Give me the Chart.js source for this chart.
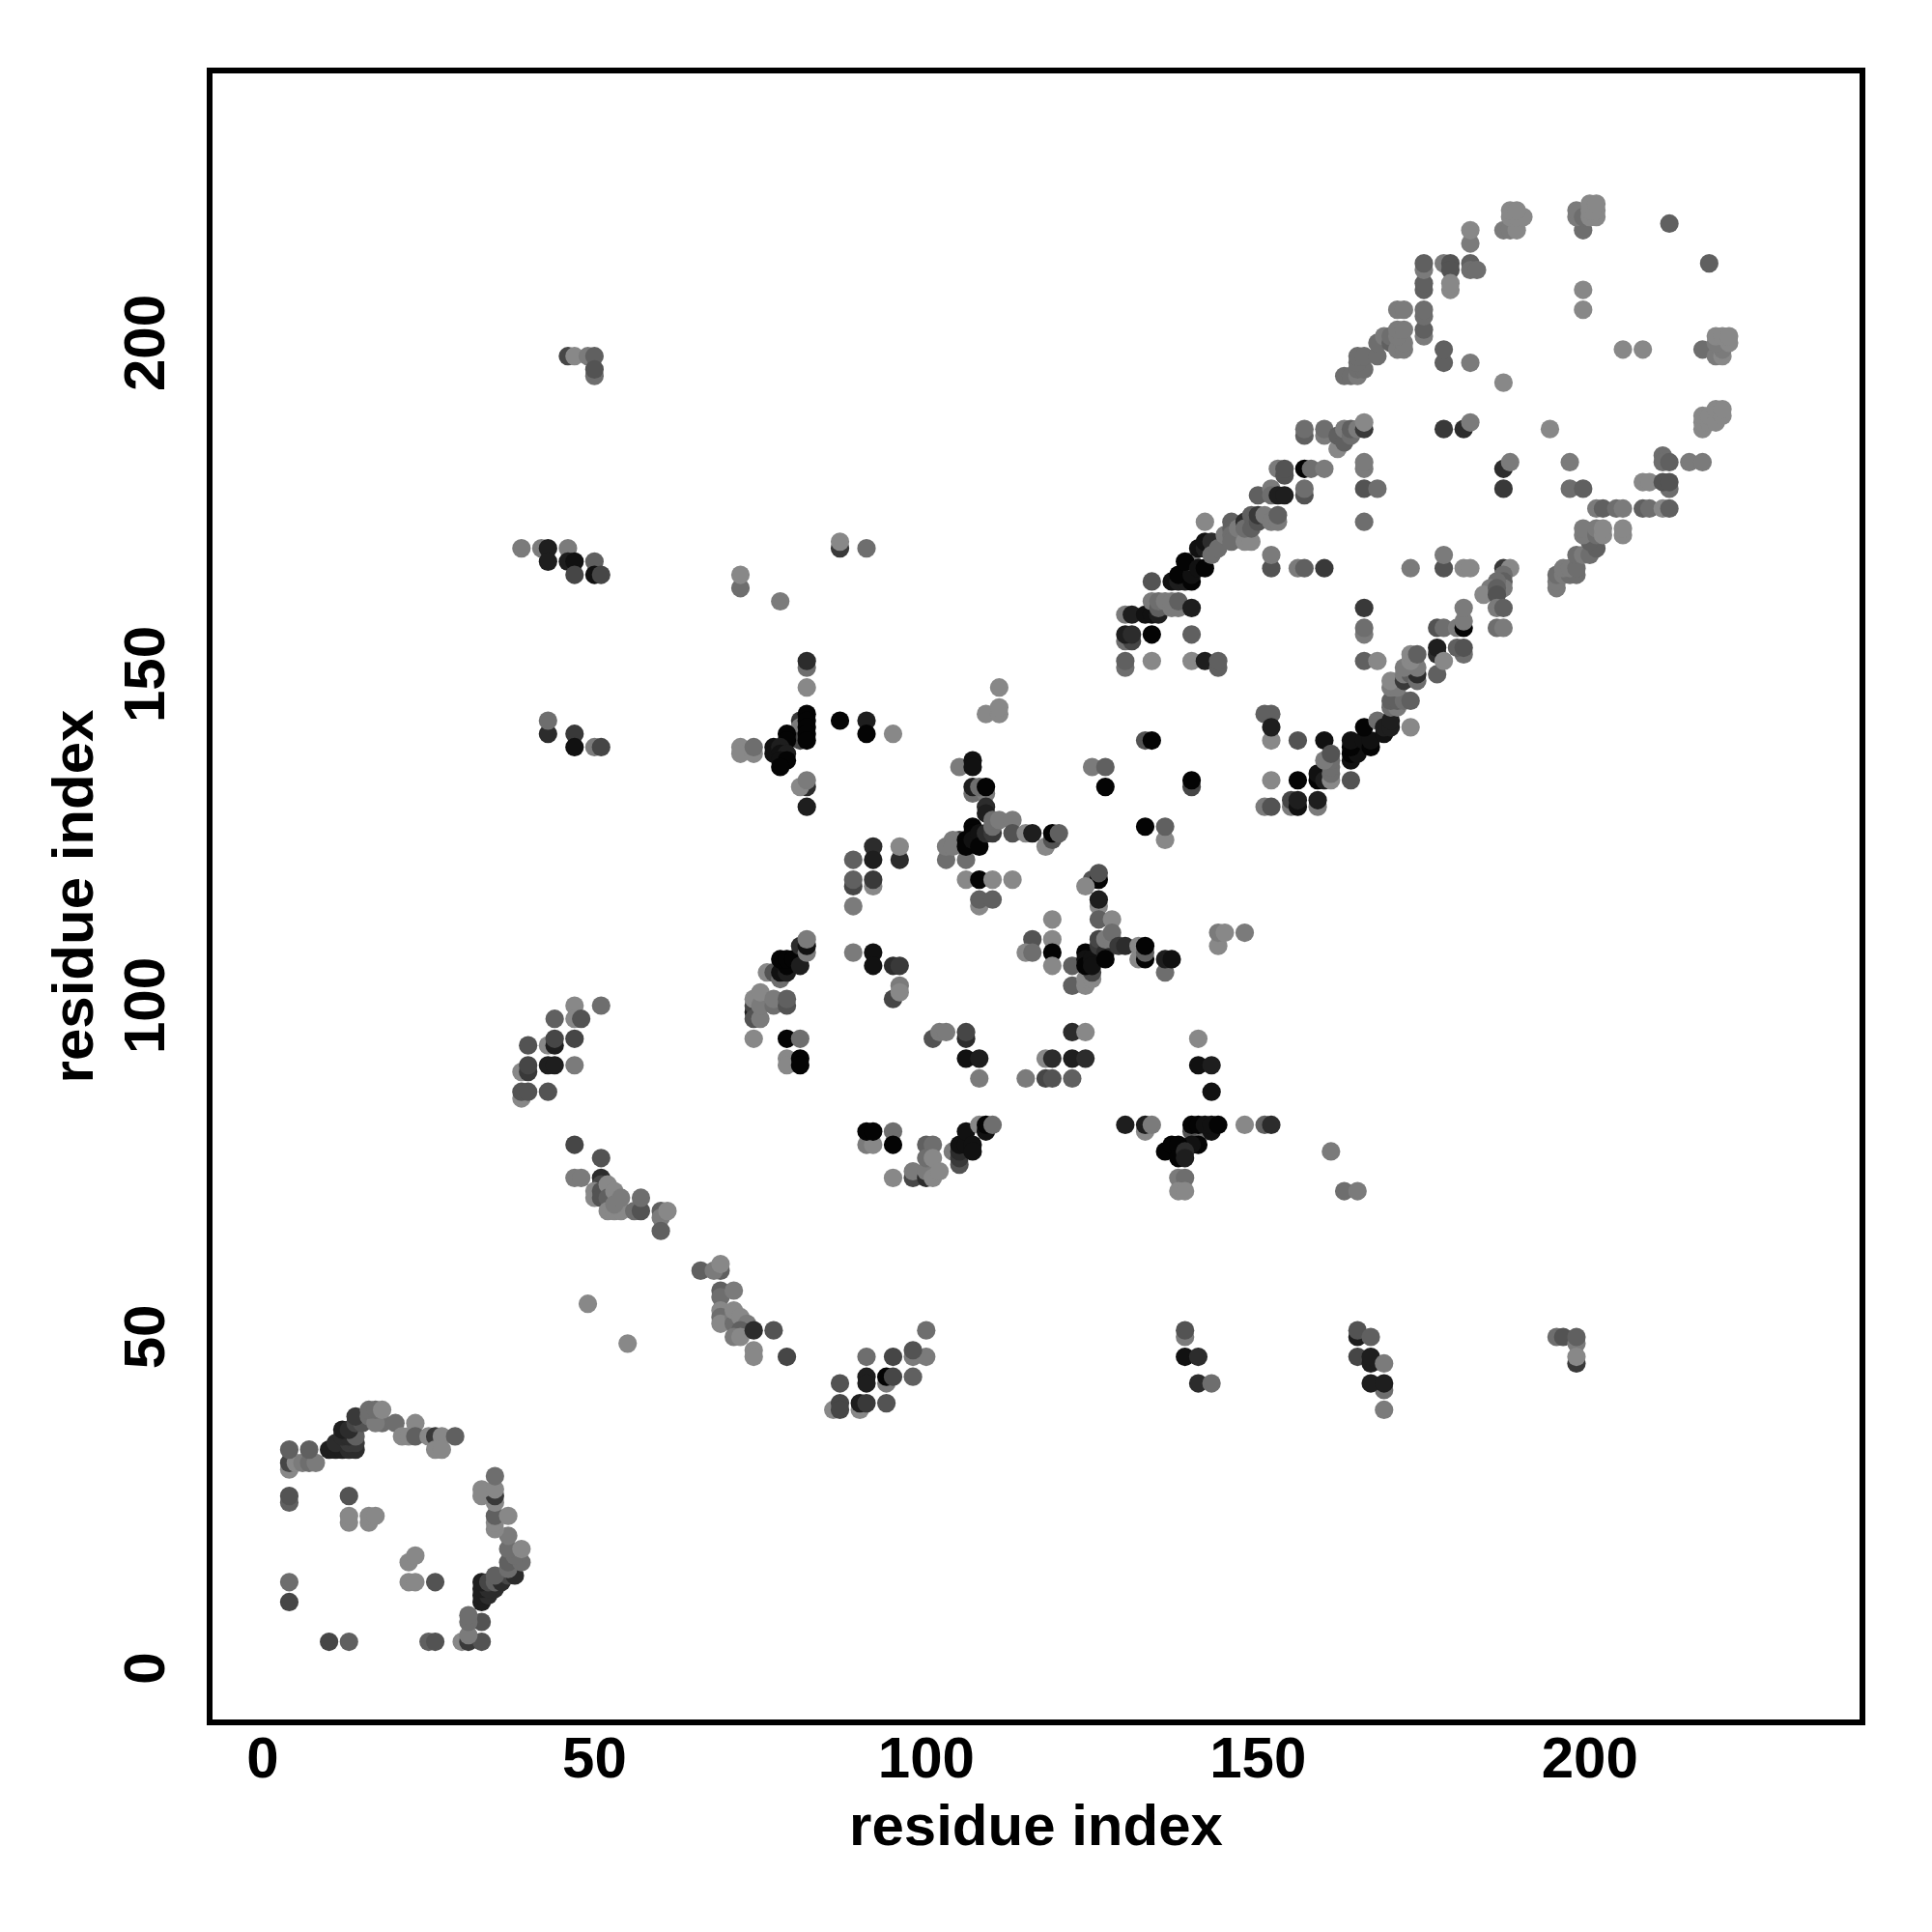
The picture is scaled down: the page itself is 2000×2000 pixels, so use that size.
<!DOCTYPE html>
<html>
<head>
<meta charset="utf-8">
<script src="https://cdn.jsdelivr.net/npm/chart.js@4"></script>
<style>
  html, body { margin: 0; background: #fff; }
  #wrap { width: 2000px; height: 2000px; }
</style>
</head>
<body>
<div id="wrap"><canvas id="c" width="2000" height="2000"></canvas></div>
<script>
// Contacts as [residue i, residue j, strength 0-10], in drawing order, cluster by cluster.
const tickValues = [0, 50, 100, 150, 200];
const axisTitle = 'residue index';

const cornerRing = [
  [10,4,5],[13,4,3],[25,4,3],[26,4,4],[30,4,0],[31,4,6],[33,4,4],[31,5,1],[33,7,4],[31,7,2],[31,8,2],
  [4,10,5],[33,10,8],[33,11,8],[34,11,7],[33,12,8],[35,12,7],[34,12,7],[4,13,2],[22,13,0],[23,13,0],[26,13,4],
  [33,13,8],[34,13,5],[35,13,3],[36,13,7],[37,14,5],[38,14,7],[35,14,3],[37,15,2],[22,16,0],[37,16,3],[39,16,2],
  [23,17,0],[38,17,2],[37,18,2],[39,18,0],[37,20,1],[35,21,0],[13,22,0],[16,22,0],[13,23,0],[16,23,0],[17,23,0],
  [35,22,0],[35,23,3],[37,23,0],[4,25,3],[35,25,0],[4,26,4],[13,26,4],[33,26,0],[35,26,6],[33,27,0],[35,27,0],[35,29,2],
  [4,30,0],[4,31,5],[5,31,0],[6,31,1],[7,31,2],[8,31,1],[4,33,3],[7,33,3],[10,33,8],[11,33,8],[12,33,8],[13,33,7],[14,33,7],
  [11,34,7],[13,34,6],[14,34,6],[12,35,7],[13,35,7],[14,35,3],[12,36,8],[13,36,7],[14,37,5],[15,37,4],[14,38,6],
  [16,38,2],[18,37,2],[17,37,1],[16,39,2],[17,39,2],[18,39,0],[20,37,2],[23,37,0],
  [21,35,0],[22,35,0],[23,35,3],[25,35,0],[26,35,6],[27,35,0],[29,35,3],[26,33,0],[27,33,0]
];
const arcNear45 = [
  [47,100,0],[51,100,2],[44,98,3],[47,98,0],[48,98,4],[40,94,4],[43,94,0],[44,94,8],[44,95,5],[47,95,5],
  [39,90,0],[40,90,6],[40,91,5],[43,91,8],[44,91,8],[47,91,1],[39,86,0],[39,87,4],[40,87,4],[43,87,4]
];
const strand50to60 = [
  [47,79,5],[51,77,4],[47,74,1],[48,74,1],[51,74,7],[51,73,5],[50,72,0],[50,71,0],[51,72,4],[51,71,4],[52,73,0],
  [52,71,3],[52,69,0],[53,69,0],[54,69,0],[53,72,0],[53,70,1],[54,71,1],[56,69,2],[57,69,4],[57,71,2],[60,69,3],[60,68,1],[61,69,0],[60,66,3],
  [49,55,0],[55,49,0]
];
const strand66to79 = [
  [66,60,3],[69,60,3],[68,60,1],[69,61,0],[69,57,3],[69,56,2],[71,57,1],[69,54,0],[69,53,2],[69,52,0],[71,53,1],[71,52,2],[71,54,0],
  [72,53,0],[73,52,1],[72,51,3],[71,50,1],[72,50,0],[74,51,7],[77,51,4],[74,48,0],[74,47,0],[79,47,5]
];
const patch87to100 = [
  [91,47,2],[95,47,5],[98,47,1],[100,47,1],[98,48,4],[100,51,2],[87,43,4],[94,43,1],[91,44,8],[91,43,8],[94,44,10],[95,44,5],[98,44,3],
  [86,39,0],[87,40,5],[87,39,5],[90,39,0],[90,40,8],[91,40,6],[94,40,4]
];
const lowerColumns = [
  [139,50,1],[139,51,4],[139,47,9],[141,47,7],[141,43,7],[143,43,2],
  [165,50,8],[165,51,4],[167,50,3],[165,47,5],[167,46,8],[167,47,8],[169,46,1],[169,42,2],[167,43,8],[169,43,8],[169,39,1],
  [195,50,2],[196,50,4],[198,46,6],[198,49,1],[198,50,3],[198,47,0]
];
const topLeftPatches = [
  [46,198,5],[47,198,0],[49,198,1],[50,198,3],[50,195,2],[50,196,4],
  [39,169,1],[42,169,1],[43,169,8],[46,169,1],[43,167,8],[46,167,8],[47,167,9],[50,167,3],[47,165,5],[50,165,9],[51,165,5],
  [87,169,6],[87,170,0],[91,169,2],[72,163,2],[72,165,0],[78,161,1],
  [43,141,7],[43,143,2],[47,141,6],[47,139,9],[50,139,1],[51,139,5]
];
const cross82 = [
  [82,151,2],[82,152,7],[82,148,0],[81,143,6],[81,142,1],[81,140,5],[82,144,10],[82,143,10],[82,142,10],[82,141,10],[82,140,10],
  [79,141,10],[79,140,10],[72,139,0],[72,138,0],[74,138,0],[74,139,2],[77,139,9],[77,138,9],[78,139,8],[78,138,9],[79,138,8],
  [78,137,9],[79,137,10],[78,136,10],[82,133,7],[81,133,0],[82,134,1],[82,130,8],[87,143,10],[91,143,8],[91,141,10],[95,141,0]
];
const cross107 = [
  [111,148,0],[109,144,0],[111,144,0],[111,145,0],[105,136,1],[107,137,9],[107,136,9],[107,132,2],[107,133,8],[109,132,1],[108,133,2],[109,133,10],
  [109,130,7],[109,129,8],[103,122,2],[106,122,2],[105,125,5],[103,124,1],[104,125,1],[104,124,1],[106,125,10],[106,124,10],
  [107,127,10],[107,126,10],[107,125,9],[108,126,9],[108,124,10],[109,126,7],[110,126,6],[110,127,2],[110,128,2],[111,128,1],[113,128,1],
  [113,126,4],[115,126,0],[116,126,8],[118,124,0],[119,125,4],[119,126,10],[120,126,3],
  [106,119,0],[108,119,10],[110,119,0],[113,119,0],[108,115,0],[108,116,3],[110,116,3]
];
const columns89to96 = [
  [89,122,3],[92,124,7],[92,122,8],[96,122,7],[96,124,0],[89,118,5],[89,119,3],[92,118,0],[92,119,6],[89,115,1],
  [89,108,1],[92,108,9],[92,106,9],[95,106,7],[96,106,6],[95,101,5],[96,103,1],[96,102,0]
];
const patch74to82 = [
  [74,95,0],[79,95,10],[81,95,2],[79,92,0],[79,91,0],[81,92,10],[81,91,10],[76,105,0],[77,105,4],[78,104,2],[78,105,9],[79,105,8],[79,106,10],[78,107,10],[79,107,10],[80,107,10],
  [81,106,8],[81,109,7],[82,108,1],[82,109,9],[82,110,1],[74,99,8],[74,100,5],[74,98,4],[75,98,1],[74,101,0],[75,100,1],[75,102,0],
  [77,100,2],[77,101,1],[79,100,4],[79,101,3]
];
const cluster119to137 = [
  [125,136,1],[127,136,3],[127,133,10],[125,119,4],[126,119,10],[124,118,0],[126,120,4],[126,115,0],[126,116,8],[126,113,3],[128,113,0],
  [119,113,0],[116,110,4],[119,110,0],[115,108,0],[116,108,2],[119,108,10],[119,106,0],[122,106,3],[122,103,3],
  [124,103,0],[124,104,0],[125,104,0],[125,105,5],[124,108,10],[124,107,9],[124,106,10],[125,107,9],[125,106,9],
  [126,109,6],[126,110,5],[127,108,7],[127,107,10],[127,110,1],[128,110,1],[128,111,2],[129,109,6],[130,109,7],
  [132,107,0],[132,109,0],[133,107,10],[133,108,3],[133,109,10],[136,105,2],[136,107,8],[137,107,9],
  [144,109,0],[144,111,1],[145,111,0],[148,111,1]
];
const row89to124 = [
  [101,95,4],[102,96,1],[103,96,1],[106,95,7],[106,96,5],[106,92,9],[108,92,8],[108,89,1],
  [118,92,0],[119,92,7],[122,96,7],[124,96,0],[122,92,8],[124,92,7],[115,89,1],[118,89,5],[119,89,4],[122,89,3]
];
const row79to82 = [
  [91,79,1],[92,79,0],[91,81,10],[92,81,10],[95,81,2],[95,79,10],[95,74,0],[98,74,5],[98,75,1],[100,74,7],[100,75,1],[101,74,0],
  [100,79,3],[101,79,2],[100,77,2],[101,77,0],[102,75,0],[104,78,1],[105,76,4],[105,77,6],[105,78,7],[105,79,9],[106,79,9],[106,81,9],
  [107,79,9],[107,78,9],[108,82,0],[109,81,9],[109,82,10],[110,82,2]
];
const cross141 = [
  [141,95,0],[141,91,9],[143,91,8],[143,87,9],[130,82,8],[133,81,0],[133,82,8],[134,82,1],[148,82,0],[151,82,3],[152,82,7],
  [140,81,4],[142,81,2],[143,81,9],[140,82,10],[141,82,10],[142,82,9],[143,82,9],[144,82,10],[141,79,10],[140,79,9],
  [136,78,10],[137,79,10],[138,79,10],[138,77,10],[139,78,7],[139,77,8],[138,74,1],[139,74,2],[138,72,0],[139,72,0],
  [161,78,1],[163,72,2],[165,72,1]
];
const diagonal130to153 = [
  [134,164,4],[130,159,1],[131,159,8],[133,159,9],[134,159,9],[135,159,8],[134,161,1],[135,160,3],[135,161,2],[136,161,1],[137,160,1],[137,161,1],[138,160,1],[138,161,3],[140,160,8],
  [130,155,2],[131,155,5],[130,156,8],[131,156,7],[134,156,10],[140,156,3],[130,151,2],[130,152,3],[134,152,0],[140,152,0],[142,152,8],[144,151,3],[144,152,3],
  [137,164,9],[138,164,8],[139,164,8],[138,165,10],[140,164,10],[140,165,9],[140,167,2],[139,167,10],[141,166,9],[142,166,10],
  [141,169,9],[142,169,8],[142,170,9],[143,170,7],[143,168,2],[144,169,2],[145,171,1],[142,173,0],
  [146,173,3],[146,172,3],[146,171,2],[146,170,2],[147,172,1],[148,170,0],[149,170,0],[148,173,7],[148,172,2],[149,172,3],
  [149,174,3],[150,173,4],[150,174,6],[151,174,1],[152,173,1],[153,173,1],[153,174,3]
];
const diagonal150to166 = [
  [150,177,3],[152,178,1],[152,177,2],[153,177,8],[154,177,8],[153,181,1],[154,180,4],[154,181,4],[157,177,4],[157,178,2],[157,181,10],[158,181,2],[160,181,1],
  [157,186,3],[157,187,2],[160,186,1],[160,187,2],[162,184,0],[162,186,3],[163,185,3],[163,187,1],[164,186,2],[164,187,3],[165,187,1],[166,187,6],[166,188,0],
  [166,181,1],[166,182,1],[166,178,4],[168,178,2],[166,173,2]
];
const midRing = [
  [152,166,4],[152,168,1],[156,166,1],[157,166,3],[160,166,6],[173,166,1],[178,166,4],[178,168,1],[181,166,0],[182,166,0],
  [166,160,6],[166,156,1],[166,157,2],[166,152,3],[168,152,0],[177,157,4],[178,157,2],[180,157,1],[181,157,10],[181,158,1],[181,160,1],
  [177,153,7],[177,154,8],[177,150,3],[178,152,0],[181,153,2],[180,154,3],[181,154,4],
  [178,187,6],[181,187,7],[182,188,1],[194,187,0],[187,178,6],[187,181,7],[188,182,1],[197,182,1],[197,178,2],[199,178,3]
];
const strand159to174 = [
  [151,130,1],[152,130,4],[155,130,1],[155,131,5],[156,130,9],[156,131,8],[159,130,1],[159,131,8],[133,127,10],[136,125,0],[136,127,3],
  [133,140,4],[134,140,10],[140,133,5],[140,134,10],[152,134,0],[156,134,10],[159,134,10],[159,135,9],[160,134,8],[161,134,0],[164,134,4],
  [151,144,3],[152,144,3],[152,140,0],[152,142,8],[156,140,4],[160,140,9],[161,135,2],[161,136,2],[161,137,2],[160,137,1],[161,138,4],
  [164,137,9],[164,138,10],[165,138,9],[164,139,10],[164,140,9],[166,140,9],[167,139,10],[167,140,9],[166,142,10],
  [168,143,2],[169,141,9],[169,142,8],[170,142,8],[170,143,8],[173,142,0],[170,145,2],[171,145,1],[170,146,3],[171,146,3],[172,146,2],[173,146,3],
  [170,148,1],[171,148,1],[170,149,0],[172,149,6],[172,150,1],[173,150,3],[174,149,2],[174,150,7],[172,151,1],[174,151,1],[173,152,0],[173,153,0],[174,153,3]
];
const strand184to205 = [
  [187,166,6],[188,166,0],[187,165,2],[187,164,3],[187,163,1],[186,164,2],[185,163,1],[184,162,0],[186,163,3],[186,162,4],[186,160,1],[187,160,3],[186,157,2],[187,157,1],
  [195,163,1],[195,164,1],[195,165,2],[196,165,1],[197,165,2],[198,165,2],[196,166,1],[197,166,1],[198,166,2],
  [198,168,2],[199,168,1],[200,168,2],[201,169,3],[200,170,3],[199,171,1],[199,172,1],[201,171,2],[201,172,1],[202,171,0],[202,172,0],[205,171,0],[205,172,0],
  [201,175,1],[202,175,3],[204,175,2],[205,175,1],[208,175,3],[209,175,2],[211,175,0],[212,175,3],
  [208,179,0],[209,179,0],[212,178,2],[211,179,4],[212,179,4],[211,183,2],[211,182,2],[212,182,3],[215,182,1],[217,182,1]
];
const topRightCaps = [
  [217,187,0],[217,188,0],[217,189,0],[218,188,0],[218,189,0],[219,188,0],[219,190,0],[220,189,0],[220,190,0],
  [217,199,2],[219,198,1],[220,198,0],[220,199,1],[219,200,1],[221,200,0],[219,201,0],[220,201,0],[221,201,0],
  [205,199,0],[208,199,0],[199,205,0],[199,208,0],[212,218,3],[218,212,3],
  [199,217,2],[198,219,1],[198,220,1],[199,219,2],[200,219,0],[201,219,0],[200,220,0],[201,220,0],[200,221,0],[201,221,0],
  [187,217,1],[188,217,1],[189,217,0],[188,219,0],[189,219,0],[190,219,0],[188,220,0],[189,220,0],[182,215,1],[182,217,0]
];
const strand163to183 = [
  [163,195,2],[164,195,2],[165,195,1],[165,196,2],[166,196,2],[165,197,2],[165,198,2],[166,198,2],[168,198,2],[168,200,2],
  [169,201,1],[170,200,3],[170,201,2],[171,199,1],[172,199,1],[172,200,1],[171,201,1],[171,202,1],[172,202,1],[171,205,1],[172,205,1],
  [175,201,1],[175,202,3],[175,204,2],[175,205,2],[175,208,3],[175,209,3],[175,211,1],[175,212,3],
  [178,212,1],[179,212,4],[179,211,4],[179,208,0],[179,209,0],[182,212,3],[182,211,2],[183,211,2],
  [178,197,3],[178,199,3],[182,197,1],[187,194,0]
];

const contacts = [
  ...cornerRing, ...arcNear45, ...strand50to60, ...strand66to79, ...patch87to100, ...lowerColumns,
  ...topLeftPatches, ...cross82, ...cross107, ...columns89to96, ...patch74to82, ...cluster119to137,
  ...row89to124, ...row79to82, ...cross141, ...diagonal130to153, ...diagonal150to166, ...midRing,
  ...strand159to174, ...strand184to205, ...topRightCaps, ...strand163to183
];

// strength 0 is the mid grey, 10 is black
function greyFor(s) {
  const v = Math.round(136 - 13.2 * s);
  return `rgb(${v},${v},${v})`;
}

const FONT = { family: '"Liberation Sans", Arial, sans-serif', size: 60, weight: 'bold' };

// Inline plugin: full box round the plot area
const frameBox = { id: 'frameBox', afterDraw(chart) {
  const { ctx, chartArea: a } = chart;
  ctx.save();
  ctx.strokeStyle = '#000';
  ctx.lineWidth = 6;
  ctx.strokeRect(a.left, a.top, a.right - a.left, a.bottom - a.top);
  ctx.restore();
}};

const fixedTicks = scale => { scale.ticks = tickValues.map(v => ({ value: v })); };

new Chart(document.getElementById('c').getContext('2d'), {
  type: 'scatter',
  data: {
    datasets: [{
      data: contacts.map(c => ({ x: c[0], y: c[1] })),
      pointRadius: 9.6,
      pointBorderWidth: 0,
      pointBackgroundColor: contacts.map(c => greyFor(c[2])),
    }]
  },
  options: {
    responsive: false,
    animation: false,
    events: [],
    layout: { padding: { top: 73, right: 72 } },
    plugins: { legend: { display: false }, tooltip: { enabled: false } },
    scales: {
      x: {
        type: 'linear', min: -8, max: 241.1,
        grid: { display: false, drawTicks: false }, border: { display: false },
        afterBuildTicks: fixedTicks,
        afterFit: s => { s.height = 217; },
        ticks: { color: '#000', font: FONT, padding: 4, autoSkip: false, maxRotation: 0, minRotation: 0 },
        title: { display: true, text: axisTitle, color: '#000', font: FONT, padding: { top: 0, bottom: 71 } },
      },
      y: {
        type: 'linear', min: -8.16, max: 241.1,
        grid: { display: false, drawTicks: false }, border: { display: false },
        afterBuildTicks: fixedTicks,
        // y labels run upward like the x title turned on its side
        afterCalculateLabelRotation: s => { s.labelRotation = 90; },
        afterFit: s => { s.width = 217; },
        ticks: { color: '#000', font: FONT, padding: 13, autoSkip: false, crossAlign: 'center' },
        title: { display: true, text: axisTitle, color: '#000', font: FONT, padding: { top: 43, bottom: 0 } },
      }
    }
  },
  plugins: [frameBox]
});
</script>
</body>
</html>
